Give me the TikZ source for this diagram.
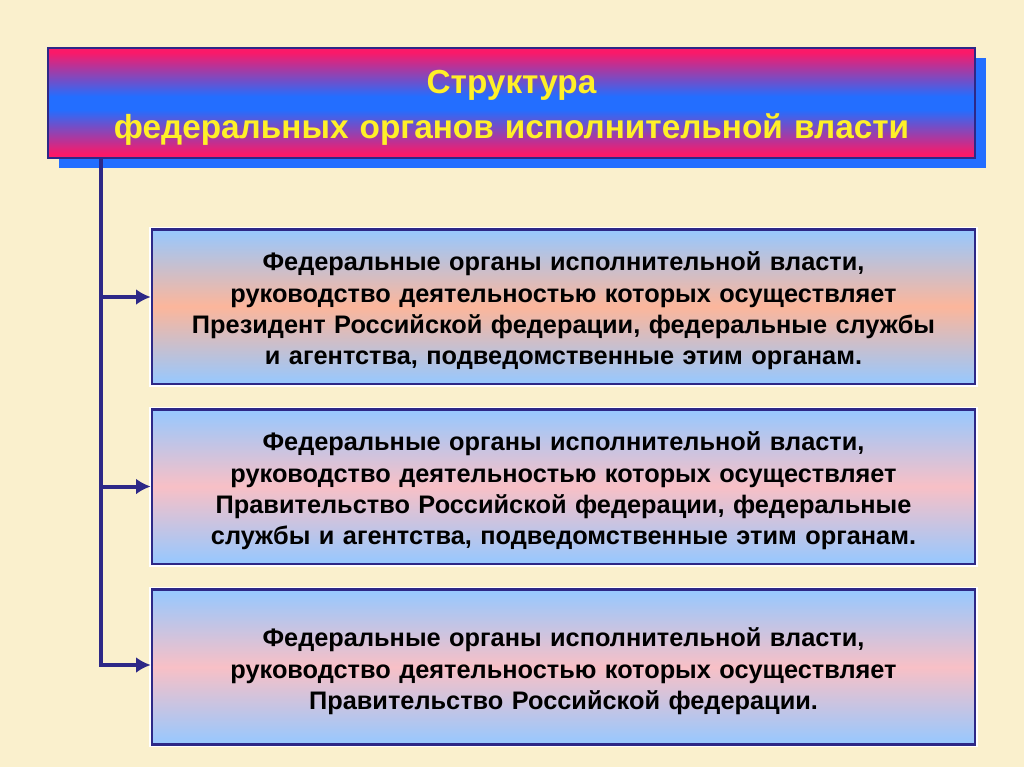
\documentclass[tikz,border=0pt]{standalone}
\usepackage{fontspec}
\setmainfont{Liberation Sans}
\usepackage{tikz}
\usetikzlibrary{arrows.meta,positioning,calc}

\definecolor{parchment}{RGB}{250,240,205}
\definecolor{navy}{RGB}{45,40,135}
\definecolor{hotpink}{RGB}{250,25,105}
\definecolor{brightblue}{RGB}{35,110,255}
\definecolor{skyblue}{RGB}{150,200,255}
\definecolor{peach}{RGB}{252,182,155}
\definecolor{rosy}{RGB}{248,192,198}
\definecolor{titleyellow}{RGB}{255,240,40}

% полосатая заливка заголовка
\pgfdeclareverticalshading{titleshade}{100bp}{color(0bp)=(hotpink); color(27bp)=(hotpink);
    color(47bp)=(brightblue); color(53bp)=(brightblue); color(73bp)=(hotpink); color(100bp)=(hotpink)}

\begin{document}
\begin{tikzpicture}[x=0.75pt,y=-0.75pt,
    titlebox/.style={draw=navy,line width=1.6pt,shading=titleshade,minimum width=695.25pt,
        minimum height=82.5pt,text width=680pt,align=center,text=titleyellow,
        font=\fontsize{25}{33.75}\selectfont\bfseries,execute at begin node={\rule{0pt}{24.5pt}}},
    orgbox/.style={draw=navy,line width=2pt,preaction={draw=white,line width=4pt},
        top color=skyblue,bottom color=skyblue,middle color=#1,
        minimum width=617.25pt,minimum height=116pt,text width=600pt,
        align=center,font=\fontsize{19}{23.3}\selectfont\bfseries,
        execute at begin node={\rule{0pt}{20.5pt}}},
    link/.style={draw=navy,line width=3pt},
    tip/.style={-{Latex[length=11pt,width=12pt]}}]
    % фон
    \fill[parchment] (0,0) rectangle (1024,767);
    \useasboundingbox (0,0) rectangle (1024,767);

    % заголовок с тенью
    \fill[brightblue] (59,58) rectangle (986,168);
    \node[titlebox] (title) at (511.5,103) {Структура\\федеральных органов исполнительной власти};

    % три блока
    \node[orgbox=peach] (org1) at (563.5,306.5) {Федеральные органы исполнительной власти,\\
        руководство деятельностью которых осуществляет\\
        Президент Российской федерации, федеральные службы\\
        и агентства, подведомственные этим органам.};
    \node[orgbox=rosy] (org2) at (563.5,486.5) {Федеральные органы исполнительной власти,\\
        руководство деятельностью которых осуществляет\\
        Правительство Российской федерации, федеральные\\
        службы и агентства, подведомственные этим органам.};
    \node[orgbox=rosy] (org3) at (563.5,667) {Федеральные органы исполнительной власти,\\
        руководство деятельностью которых осуществляет\\
        Правительство Российской федерации.};

    % соединения
    \coordinate (trunk) at (101,158);
    \coordinate (in1) at ($(org1.west)+(0,-9.5)$);
    \coordinate (in3) at ($(org3.west)+(0,-2)$);
    \draw[link,tip] (trunk) |- (in3);
    \draw[link,tip] (trunk |- in1) -- (in1);
    \draw[link,tip] (trunk |- org2.west) -- (org2.west);
\end{tikzpicture}
\end{document}
